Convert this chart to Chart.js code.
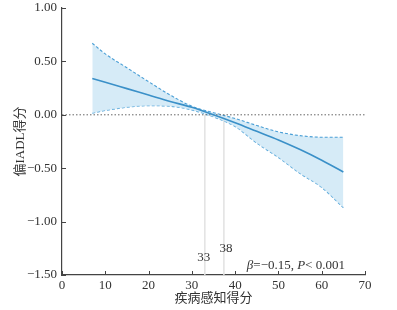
<!DOCTYPE html>
<html>
<head>
<meta charset="utf-8">
<script src="https://cdn.jsdelivr.net/npm/chart.js@4/dist/chart.umd.min.js"></script>
<style>
  html, body { margin: 0; padding: 0; background: #fff; }
  #wrap { width: 397px; height: 310px; }
</style>
</head>
<body>
<div id="wrap"><canvas id="rcs"></canvas></div>
<script>
// 疾病感知得分 vs 偏IADL得分 (RCS curve)
const xs     = [7, 10, 15, 20, 25, 30, 35, 40, 45, 50, 55, 60, 65];
const fit    = [0.34, 0.305, 0.245, 0.185, 0.125, 0.07, 0.0, -0.075, -0.155, -0.235, -0.325, -0.425, -0.535];
const upper  = [0.67, 0.57, 0.44, 0.31, 0.185, 0.08, 0.02, -0.035, -0.10, -0.16, -0.195, -0.21, -0.21];
const lower  = [0.015, 0.04, 0.07, 0.085, 0.08, 0.045, -0.02, -0.11, -0.265, -0.40, -0.55, -0.68, -0.87];
const cutLines  = [33, 37.4];
const cutLabels = ['33', '38'];
const xTicks = [0, 10, 20, 30, 40, 50, 60, 70];
const yTicks = [-1.5, -1.0, -0.5, 0, 0.5, 1.0];

const SERIF = '"Liberation Serif", "Noto Sans CJK SC", serif';
const pts = arr => xs.map((x, i) => ({ x: x, y: arr[i] }));
const fmt = v => (v < 0 ? '\u2212' : '') + Math.abs(v).toFixed(2);

// inward tick marks + text notes
const extras = {
  id: 'extras',
  afterDraw(chart) {
    const { ctx, scales: { x, y } } = chart;
    ctx.save();
    ctx.strokeStyle = '#444';
    ctx.lineWidth = 1;
    ctx.beginPath();
    yTicks.forEach(v => {
      const py = Math.round(y.getPixelForValue(v)) + 0.5;
      ctx.moveTo(x.left, py); ctx.lineTo(x.left + 4, py);
    });
    xTicks.forEach(v => {
      const px = Math.round(x.getPixelForValue(v)) + 0.5;
      ctx.moveTo(px, y.bottom); ctx.lineTo(px, y.bottom - 4);
    });
    ctx.stroke();

    ctx.fillStyle = '#333';
    ctx.textBaseline = 'middle';
    ctx.textAlign = 'center';
    ctx.font = '13px ' + SERIF;
    ctx.fillText(cutLabels[0], x.getPixelForValue(cutLines[0]) - 1, y.getPixelForValue(-1.34));
    ctx.fillText(cutLabels[1], x.getPixelForValue(cutLines[1]) + 2, y.getPixelForValue(-1.255));

    // β=−0.15, P< 0.001
    let px = x.getPixelForValue(42.7);
    const py = y.getPixelForValue(-1.41);
    ctx.textAlign = 'left';
    const parts = [['β', true], ['=\u22120.15, ', false], ['P', true], ['< 0.001', false]];
    parts.forEach(([t, it]) => {
      ctx.font = (it ? 'italic ' : '') + '13px ' + SERIF;
      ctx.fillText(t, px, py);
      px += ctx.measureText(t).width;
    });
    ctx.restore();
  }
};

new Chart(document.getElementById('rcs'), {
  type: 'line',
  data: {
    datasets: [
      {
        label: 'upper',
        data: pts(upper),
        order: 2,
        borderColor: '#4a9fd6',
        borderWidth: 1.1,
        borderDash: [3, 2],
        backgroundColor: 'rgba(200, 228, 244, 0.75)',
        fill: '+1',
        pointRadius: 0,
        cubicInterpolationMode: 'monotone'
      },
      {
        label: 'lower',
        data: pts(lower),
        order: 2,
        borderColor: '#4a9fd6',
        borderWidth: 1.1,
        borderDash: [3, 2],
        fill: false,
        pointRadius: 0,
        cubicInterpolationMode: 'monotone'
      },
      {
        label: 'fit',
        data: pts(fit),
        order: 0,
        borderColor: '#3a90c8',
        borderWidth: 1.6,
        fill: false,
        pointRadius: 0,
        cubicInterpolationMode: 'monotone'
      },
      {
        label: 'zero',
        data: [{ x: 0, y: 0 }, { x: 70, y: 0 }],
        order: 1,
        borderColor: '#666',
        borderWidth: 1,
        borderDash: [1.5, 2],
        pointRadius: 0,
        fill: false
      },
      ...cutLines.map(c => ({
        label: 'cut' + c,
        data: [{ x: c, y: 0 }, { x: c, y: -1.5 }],
        order: 3,
        borderColor: '#e2e2e2',
        borderWidth: 1.5,
        pointRadius: 0,
        fill: false
      }))
    ]
  },
  options: {
    responsive: true,
    maintainAspectRatio: false,
    animation: false,
    layout: { padding: { top: 8, right: 32, left: 0, bottom: 0 } },
    plugins: {
      legend: { display: false },
      tooltip: { enabled: false }
    },
    scales: {
      x: {
        type: 'linear',
        min: 0,
        max: 70,
        afterFit(s) { s.height = 35; s.paddingLeft = 0; s.paddingRight = 0; },
        afterBuildTicks(s) { s.ticks = xTicks.map(v => ({ value: v })); },
        grid: { display: false, drawTicks: false, tickLength: 0 },
        border: { display: true, color: '#444', width: 1.2 },
        ticks: { color: '#333', padding: 3, font: { family: SERIF, size: 13 } },
        title: {
          display: true,
          text: '疾病感知得分',
          color: '#333',
          padding: { top: 4, bottom: 4 },
          font: { family: SERIF, size: 13 }
        }
      },
      y: {
        min: -1.5,
        max: 1.0,
        afterFit(s) { s.width = 62; s.paddingTop = 0; s.paddingBottom = 0; },
        afterBuildTicks(s) { s.ticks = yTicks.map(v => ({ value: v })); },
        grid: { display: false, drawTicks: false, tickLength: 0 },
        border: { display: true, color: '#444', width: 1.2 },
        ticks: {
          color: '#333',
          padding: 5,
          font: { family: SERIF, size: 13 },
          callback: v => fmt(v)
        },
        title: {
          display: true,
          text: '偏IADL得分',
          color: '#333',
          padding: { top: 13, bottom: 0 },
          font: { family: SERIF, size: 13 }
        }
      }
    }
  },
  plugins: [extras]
});
</script>
</body>
</html>
